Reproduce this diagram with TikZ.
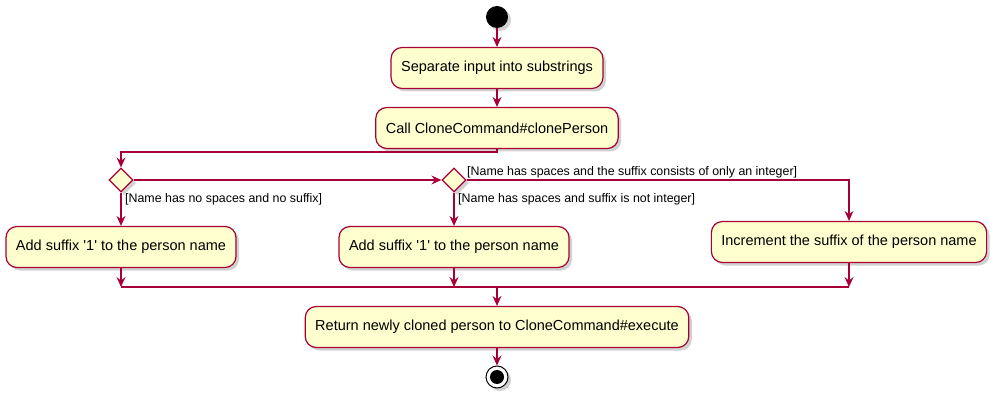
\documentclass[tikz,border=0pt]{standalone}
\usepackage{fontspec}
\setmainfont{Liberation Sans}
\usetikzlibrary{arrows.meta,shapes.geometric,shadows}
\definecolor{pborder}{HTML}{A80036}
\definecolor{pfill}{HTML}{FEFECE}
\tikzset{
  act/.style={draw=pborder,fill=pfill,line width=1.2pt,rounded corners=11pt,
    minimum height=41pt,inner xsep=10pt,font=\fontsize{14.5}{17}\selectfont,
    drop shadow={shadow xshift=3pt,shadow yshift=-3pt,opacity=0.3,fill=black!60}},
  dec/.style={draw=pborder,fill=pfill,line width=1.2pt,diamond,minimum width=24pt,minimum height=24pt,inner sep=0pt,
    drop shadow={shadow xshift=3pt,shadow yshift=-3pt,opacity=0.3,fill=black!60}},
  flow/.style={draw=pborder,line width=1.2pt,-{Stealth[length=10pt,width=9pt,inset=3.5pt]}},
  plain/.style={draw=pborder,line width=1.2pt},
  guard/.style={font=\fontsize{12.4}{14}\selectfont,inner sep=0pt,anchor=west},
}
\begin{document}
\begin{tikzpicture}[x=1pt,y=-1pt]
\useasboundingbox (0,0) rectangle (1003,403);
\node[circle,fill=black,minimum size=22pt,inner sep=0pt,drop shadow={shadow xshift=3pt,shadow yshift=-3pt,opacity=0.3,fill=black!60}] (start) at (497,17) {};
\node[act] (sep) at (497,68) {Separate input into substrings};
\node[act] (call) at (497,128) {Call CloneCommand\#clonePerson};
\node[dec] (d1) at (121,180) {};
\node[dec] (d2) at (454,180) {};
\node[act] (a1) at (121,247) {Add suffix \textquotesingle1\textquotesingle{} to the person name};
\node[act] (a2) at (454,247) {Add suffix \textquotesingle1\textquotesingle{} to the person name};
\node[act] (a3) at (849,242) {Increment the suffix of the person name};
\node[act] (ret) at (497,327) {Return newly cloned person to CloneCommand\#execute};
\node[circle,draw=black,line width=1pt,fill=white,minimum size=22pt,inner sep=0pt,drop shadow={shadow xshift=3pt,shadow yshift=-3pt,opacity=0.3,fill=black!60}] (stop) at (497,377) {};
\node[circle,fill=black,minimum size=14pt,inner sep=0pt] (stopin) at (497,377) {};
\coordinate (c1) at (497,152);
\coordinate (c2) at (121,152);
\coordinate (m1) at (121,287);
\coordinate (m2) at (454,287);
\coordinate (m3) at (849,287);
\coordinate (m0) at (497,287);
\coordinate (r1) at (849,180);

\draw[flow] (start) -- (sep);
\draw[flow] (sep) -- (call);
\draw[flow] (call.south) -- (c1) -- (c2) -- (d1.north);
\draw[flow] (d1.east) -- (d2.west);
\draw[flow] (d1.south) -- (a1.north);
\draw[flow] (d2.south) -- (a2.north);
\draw[flow] (d2.east) -- (r1) -- (a3.north);
\draw[flow] (a1.south) -- (m1);
\draw[flow] (a2.south) -- (m2);
\draw[flow] (a3.south) -- (m3);
\draw[plain] (m1) -- (m3);
\draw[flow] (m0) -- (ret.north);
\draw[flow] (ret) -- (stop);

\node[guard] (g1) at (125,199) {[Name has no spaces and no suffix]};
\node[guard] (g2) at (458,199) {[Name has spaces and suffix is not integer]};
\node[guard] (g3) at (467,172) {[Name has spaces and the suffix consists of only an integer]};
\end{tikzpicture}
\end{document}
